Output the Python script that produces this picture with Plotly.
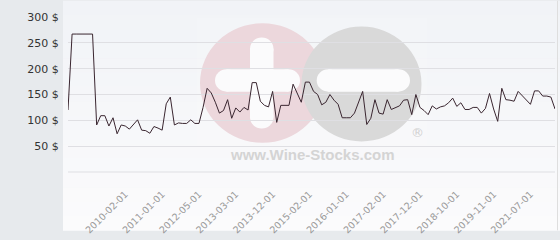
import plotly.graph_objects as go

# ---- data ----
prices = [
    120, 267, 267, 267, 267, 267, 267, 91, 109, 109,
    89, 105, 74, 91, 89, 83, 92, 101, 81, 80,
    75, 88, 85, 81, 132, 145, 91, 95, 94, 94,
    101, 94, 94, 125, 162, 153, 135, 114, 119, 140,
    104, 124, 116, 125, 120, 173, 173, 137, 129, 126,
    156, 96, 129, 129, 129, 170, 154, 135, 174, 174,
    156, 150, 130, 135, 150, 139, 131, 105, 105, 105,
    114, 137, 156, 92, 104, 140, 114, 112, 140, 121,
    125, 128, 139, 140, 111, 150, 125, 119, 111, 128,
    122, 126, 128, 134, 143, 127, 134, 121, 121, 125,
    125, 114, 123, 152, 122, 98, 162, 140, 139, 137,
    156, 148, 139, 131, 157, 157, 147, 147, 145, 122,
]
tick_labels = [
    "2010-02-01", "2011-01-01", "2012-05-01", "2013-03-01", "2013-12-01",
    "2015-02-01", "2016-01-01", "2017-02-01", "2017-12-01", "2018-10-01",
    "2019-11-01", "2021-07-01",
]
first_labeled = 14
label_step = 9
y_ticks = [0, 50, 100, 150, 200, 250, 300]
y_tick_text = ["" if v == 0 else f"{v} $" for v in y_ticks]

x_idx = list(range(len(prices)))
tick_pos = [first_labeled + label_step * k for k in range(len(tick_labels))]

# ---- geometry helpers (pixel -> paper) ----
W, H = 560, 240
L, R, T, B = 68, 5, 17, 61
PW, PH = W - L - R, H - T - B


def fx(px):
    return (px - L) / PW


def fy(py):
    return (H - B - py) / PH


def rect(x0, y0, x1, y1, color, opacity=1.0):
    return dict(type="rect", xref="paper", yref="paper",
                x0=fx(x0), x1=fx(x1), y0=fy(y1), y1=fy(y0),
                fillcolor=color, opacity=opacity, line=dict(width=0), layer="below")


def circ(cx, cy, r, color, opacity=1.0):
    return dict(type="circle", xref="paper", yref="paper",
                x0=fx(cx - r), x1=fx(cx + r), y0=fy(cy + r), y1=fy(cy - r),
                fillcolor=color, opacity=opacity, line=dict(width=0), layer="below")


def pill(x0, y0, x1, y1, color):
    # rounded bar built from a rect and two end circles
    h = y1 - y0
    w = x1 - x0
    out = []
    if w >= h:
        r = h / 2
        out.append(rect(x0 + r, y0, x1 - r, y1, color))
        out.append(circ(x0 + r, y0 + r, r, color))
        out.append(circ(x1 - r, y0 + r, r, color))
    else:
        r = w / 2
        out.append(rect(x0, y0 + r, x1, y1 - r, color))
        out.append(circ(x0 + r, y0 + r, r, color))
        out.append(circ(x0 + r, y1 - r, r, color))
    return out


shapes = []
# light background with a soft vertical gradient (right of the grey panel)
bands = 16
c_top, c_bot = (241, 243, 247), (251, 251, 252)
for k in range(bands):
    t = k / (bands - 1)
    c = tuple(round(a + (b - a) * t) for a, b in zip(c_top, c_bot))
    shapes.append(rect(63, k * H / bands, W, (k + 1) * H / bands + 0.5,
                       f"rgb({c[0]},{c[1]},{c[2]})"))

# watermark
shapes.append(rect(197, 18, 427, 172, "#ffffff", 0.12))
shapes.append(circ(262.5, 86, 62.5, "#ecd7dc"))
shapes.append(circ(361.5, 87, 60, "#d9d9d9"))
shapes += pill(250, 38.5, 273.5, 133.5, "#fbfbfc")
shapes += pill(215, 71.7, 300, 95, "#fbfbfc")
shapes += pill(316.7, 71.7, 410, 95, "#fbfbfc")

# bottom (zero) grid line
shapes.append(dict(type="line", xref="paper", yref="paper",
                   x0=0, x1=1, y0=0, y1=0,
                   line=dict(color="#dfdfe3", width=1), layer="below"))

# thin right border
shapes.append(dict(type="line", xref="paper", yref="paper",
                   x0=fx(557.5), x1=fx(557.5), y0=fy(240), y1=fy(0),
                   line=dict(color="#dedede", width=1), layer="below"))

annotations = [
    dict(text="<b>www.Wine-Stocks.com</b>", xref="paper", yref="paper",
         x=fx(312), y=fy(161), showarrow=False,
         font=dict(family="Liberation Sans", size=15, color="#d4d4d4"),
         xanchor="center", yanchor="middle"),
    dict(text="®", xref="paper", yref="paper",
         x=fx(417), y=fy(138), showarrow=False,
         font=dict(family="DejaVu Sans", size=13, color="#d0d0d0"),
         xanchor="center", yanchor="middle"),
]

fig = go.Figure(
    go.Scatter(x=x_idx, y=prices, mode="lines",
               line=dict(color="#3a2630", width=1), hoverinfo="skip")
)

fig.update_layout(
    width=W, height=H,
    margin=dict(l=L, r=R, t=T, b=B, pad=0),
    paper_bgcolor="#e7eaed",
    plot_bgcolor="rgba(0,0,0,0)",
    showlegend=False,
    shapes=shapes,
    annotations=annotations,
    xaxis=dict(
        range=[0, len(prices) - 1],
        tickmode="array", tickvals=tick_pos, ticktext=tick_labels,
        tickangle=-45, showgrid=False, zeroline=False, showline=False,
        ticks="outside", ticklen=12, tickcolor="rgba(0,0,0,0)",
        tickfont=dict(family="DejaVu Sans", size=9.5, color="#999999"),
    ),
    yaxis=dict(
        range=[0, 300],
        tickmode="array", tickvals=y_ticks, ticktext=y_tick_text,
        showgrid=True, gridcolor="#dfdfe3", gridwidth=1,
        zeroline=False, showline=False,
        ticks="outside", ticklen=6, tickcolor="rgba(0,0,0,0)",
        tickfont=dict(family="DejaVu Sans", size=11, color="#333333"),
    ),
)

fig.write_html("out.html")
